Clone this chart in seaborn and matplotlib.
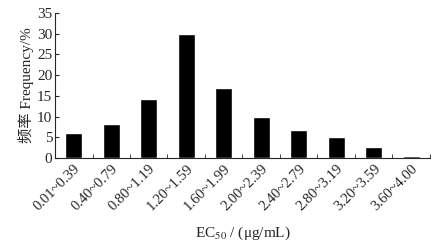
import numpy as np
import pandas as pd
import seaborn as sns
import matplotlib.pyplot as plt
from matplotlib.ticker import FixedLocator

# Dữ liệu
categories = ["0.01~0.39", "0.40~0.79", "0.80~1.19", "1.20~1.59", "1.60~1.99",
              "2.00~2.39", "2.40~2.79", "2.80~3.19", "3.20~3.59", "3.60~4.00"]
frequency = [6.0, 8.2, 14.2, 30.0, 16.8, 10.0, 6.8, 5.1, 2.7, 0.4]
y_ticks = [0, 5, 10, 15, 20, 25, 30, 35]

df = pd.DataFrame({"range": categories, "freq": frequency})

sns.set_style("ticks")
plt.rcParams["font.family"] = ["Liberation Serif", "Noto Sans CJK SC"]
plt.rcParams["mathtext.fontset"] = "stix"

fig = plt.figure(figsize=(4.38, 2.46), dpi=100)
ax = fig.add_axes([0.1256, 0.358, 0.856, 0.589])

sns.barplot(data=df, x="range", y="freq", color="black", width=0.45,
            saturation=1, ax=ax)

ax.set_xlim(-0.5, len(categories) - 0.5)
ax.set_ylim(0, 35)
ax.set_yticks(y_ticks)
ax.tick_params(axis="y", direction="in", length=3, labelsize=11, pad=2)
ax.tick_params(axis="x", which="major", length=0, labelsize=10.5, pad=3)
ax.xaxis.set_minor_locator(FixedLocator(np.arange(0.5, len(categories), 1.0)))
ax.tick_params(axis="x", which="minor", direction="in", length=3)
plt.setp(ax.get_xticklabels(), rotation=45, ha="right", rotation_mode="anchor")

ax.set_xlabel("EC$_{50}$ / (μg/mL)", fontsize=11, labelpad=8)
ax.set_ylabel("频率 Frequency/%", fontsize=11, labelpad=2)

sns.despine(ax=ax)
for s in ["left", "bottom"]:
    ax.spines[s].set_linewidth(0.8)

fig.savefig("out.png", dpi=100)
